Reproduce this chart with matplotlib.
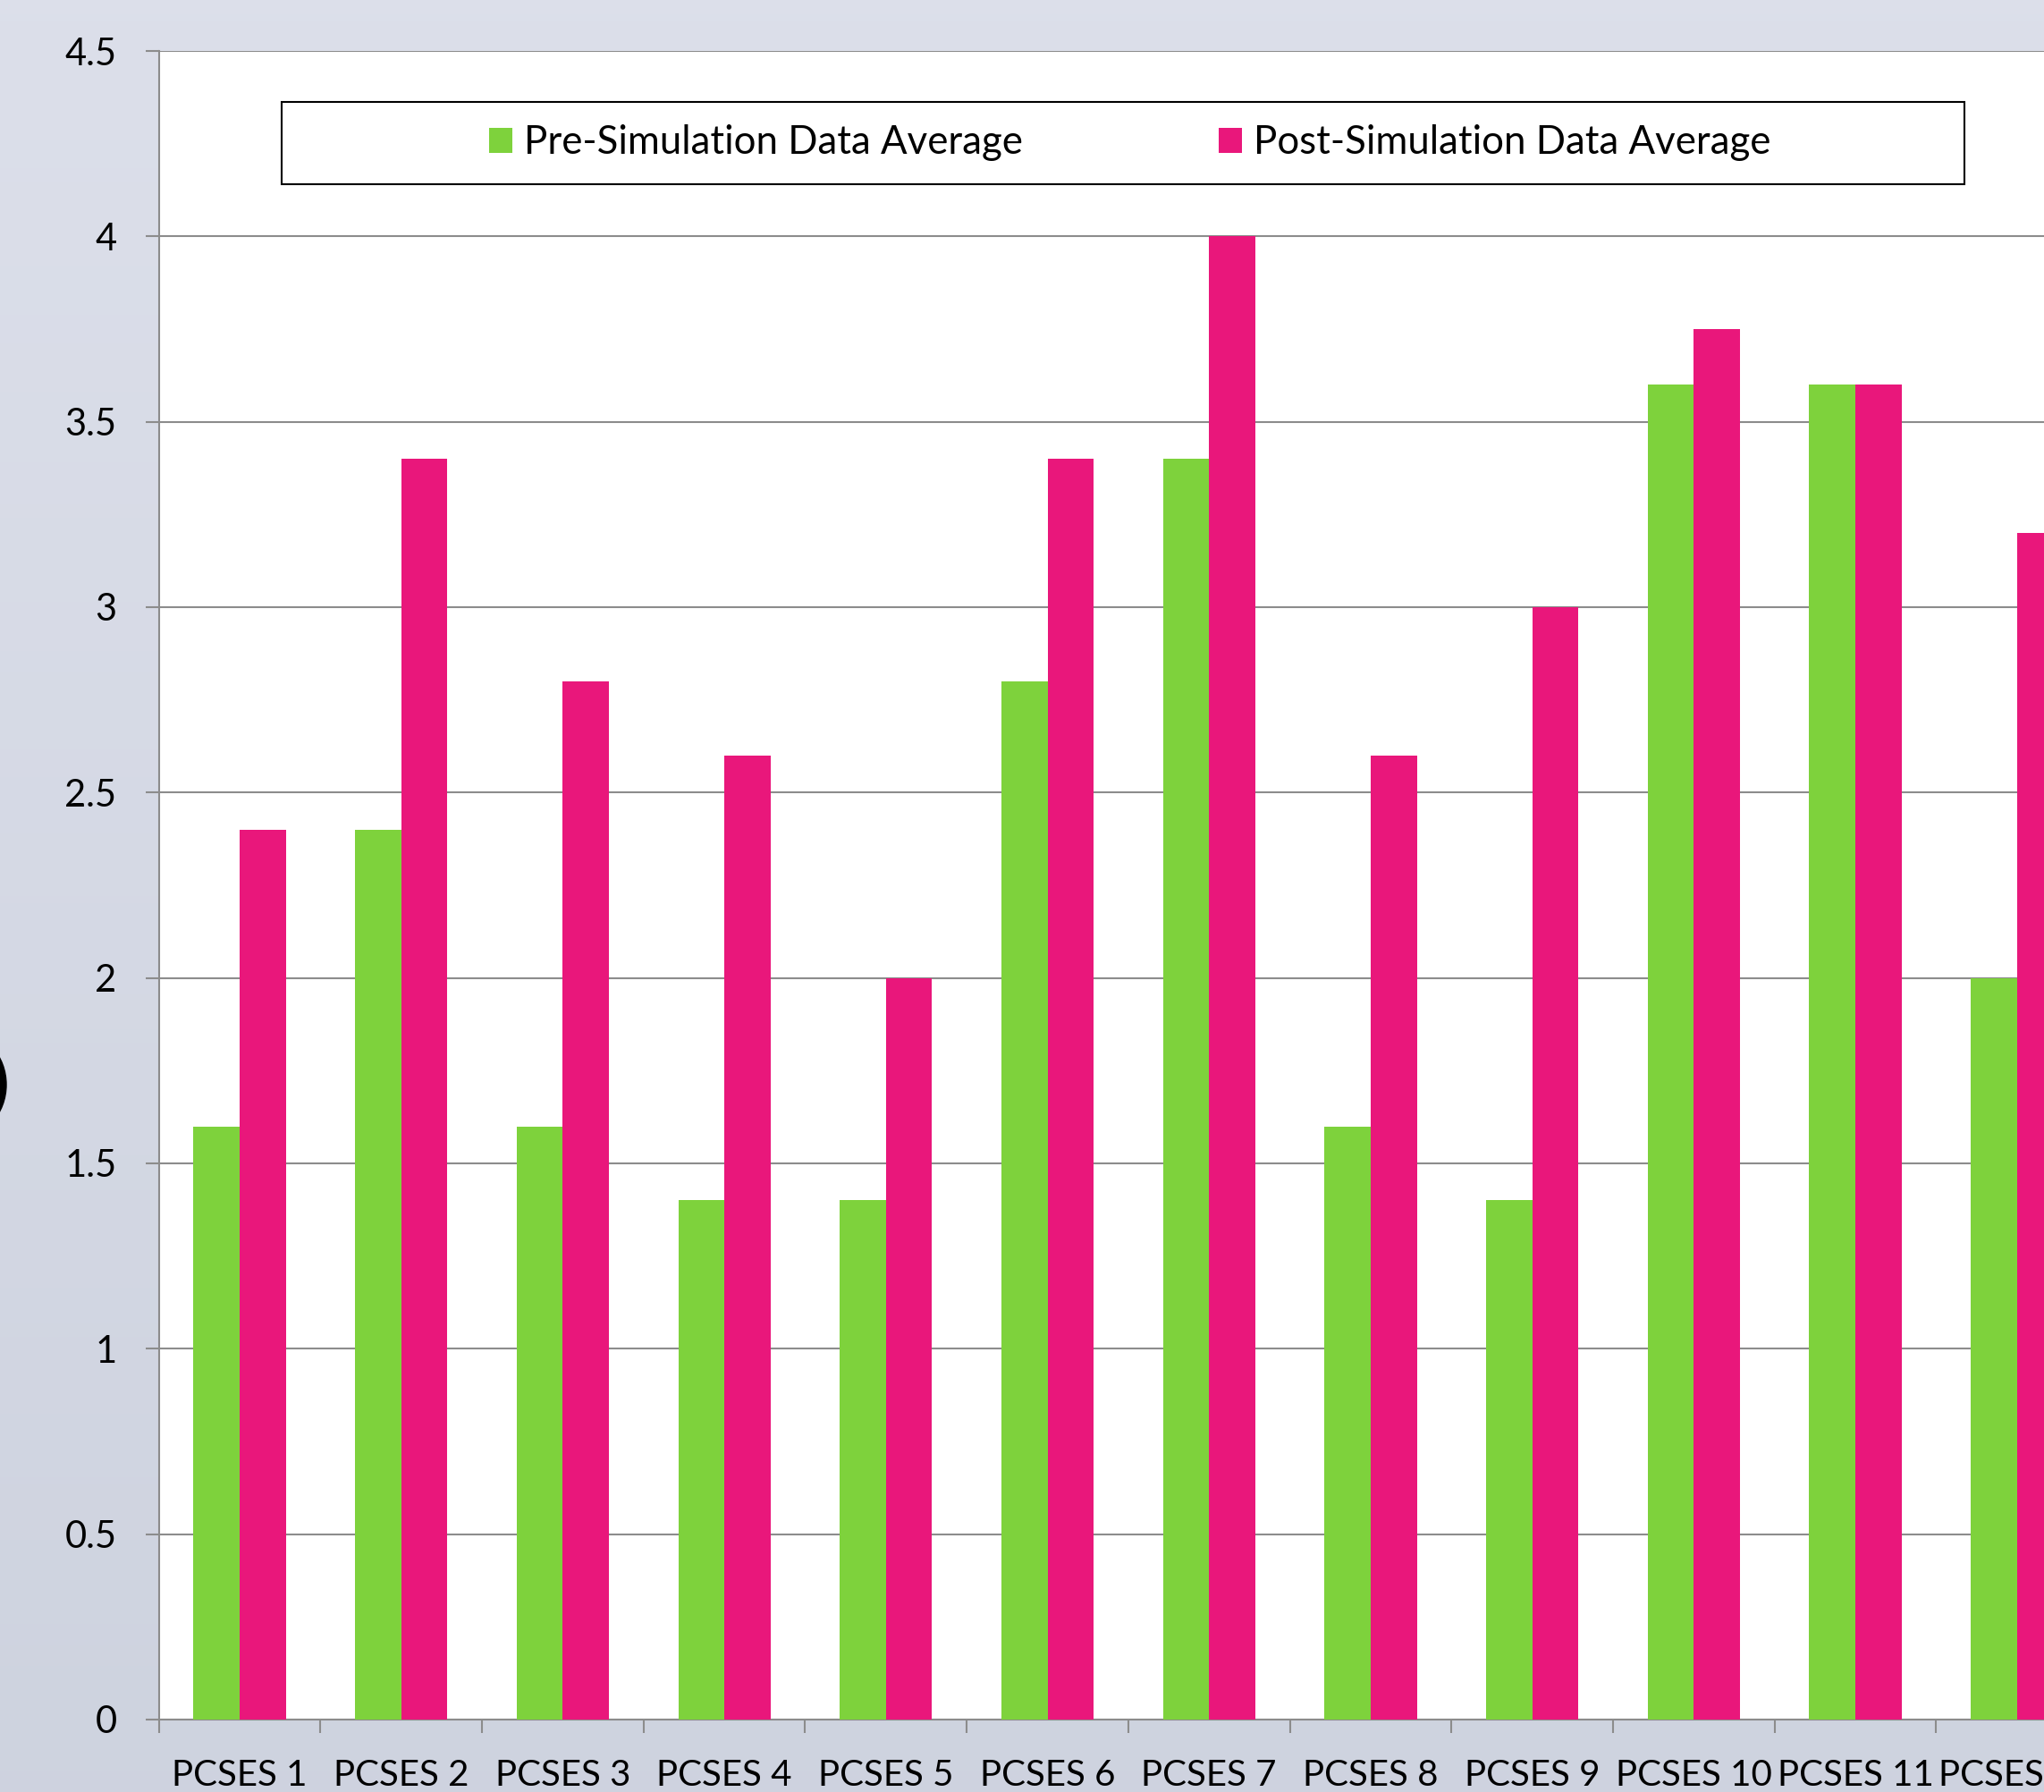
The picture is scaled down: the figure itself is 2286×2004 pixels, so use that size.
import numpy as np
import matplotlib
matplotlib.use("Agg")
import matplotlib.pyplot as plt
from matplotlib.patches import Rectangle, Ellipse

# data
categories = ["PCSES 1", "PCSES 2", "PCSES 3", "PCSES 4", "PCSES 5", "PCSES 6",
              "PCSES 7", "PCSES 8", "PCSES 9", "PCSES 10", "PCSES 11", "PCSES 12"]
pre_sim = [1.6, 2.4, 1.6, 1.4, 1.4, 2.8, 3.4, 1.6, 1.4, 3.6, 3.6, 2.0]
post_sim = [2.4, 3.4, 2.8, 2.6, 2.0, 3.4, 4.0, 2.6, 3.0, 3.75, 3.6, 3.2]
series_names = ["Pre-Simulation Data Average", "Post-Simulation Data Average"]
y_ticks = [0, 0.5, 1, 1.5, 2, 2.5, 3, 3.5, 4, 4.5]
y_tick_labels = ["0", "0.5", "1", "1.5", "2", "2.5", "3", "3.5", "4", "4.5"]

GREEN = "#7ED23C"
PINK = "#E9177B"
GRID = "#8C8C8C"

plt.rcParams["font.family"] = ["Lato", "DejaVu Sans"]

W, H = 2286, 2004
fig = plt.figure(figsize=(W / 100, H / 100), dpi=100)

# background gradient
bg = fig.add_axes([0, 0, 1, 1], zorder=-10)
top = np.array([0.863, 0.875, 0.918])
bot = np.array([0.808, 0.827, 0.875])
t = np.linspace(0, 1, 256)[:, None]
grad = top[None, :] * (1 - t) + bot[None, :] * t
bg.imshow(grad[:, None, :], aspect="auto", extent=[0, 1, 0, 1])
bg.axis("off")

# cut-off glyph at the far left edge
fig.patches.append(Ellipse((-48 / W, 1 - 1213 / H), 110 / W, 120 / H,
                           transform=fig.transFigure, color="black"))

left = 177.7 / W
bottom = 81 / H
height = (1923 - 57) / H
ax = fig.add_axes([left, bottom, 1 - left, height])
ax.set_facecolor("white")

x = np.arange(len(categories))
bw = 1 / 3.5
ax.bar(x - bw / 2, pre_sim, width=bw, color=GREEN, zorder=3, label=series_names[0])
ax.bar(x + bw / 2, post_sim, width=bw, color=PINK, zorder=3, label=series_names[1])

ax.set_yticks(y_ticks)
ax.set_yticklabels(y_tick_labels)
ax.yaxis.grid(True, color=GRID, linewidth=1.5, zorder=0)
ax.set_axisbelow(True)

ax.set_xticks(x)
ax.set_xticklabels(categories)
ax.set_xticks(np.arange(len(categories) + 1) - 0.5, minor=True)

# the chart is cropped on the right, part way into the last group
cat_px = 180.7
ax.set_xlim(-0.5, -0.5 + (W - 177.7) / cat_px)
ax.set_ylim(0, 4.5)

for s in ["top", "right"]:
    ax.spines[s].set_visible(False)
for s in ["left", "bottom"]:
    ax.spines[s].set_color(GRID)
    ax.spines[s].set_linewidth(1.5)

ax.tick_params(axis="y", length=11, width=1.5, color=GRID, pad=23, labelsize=30)
ax.tick_params(axis="x", which="major", length=0, pad=32, labelsize=29)
ax.tick_params(axis="x", which="minor", length=11, width=1.5, color=GRID)

# legend box
fig.patches.append(Rectangle((315 / W, 1 - 206 / H), (2197 - 315) / W, 92 / H,
                             transform=fig.transFigure, facecolor="white",
                             edgecolor="black", linewidth=1.5, zorder=5))
leg = fig.legend(loc="center", bbox_to_anchor=(1264 / W, 1 - 160 / H), ncol=2,
                 frameon=False, fontsize=31.5, handlelength=0.6, handleheight=0.6,
                 handletextpad=0.3, columnspacing=5.0)
leg.set_zorder(6)

fig.savefig("out.png", dpi=100)
